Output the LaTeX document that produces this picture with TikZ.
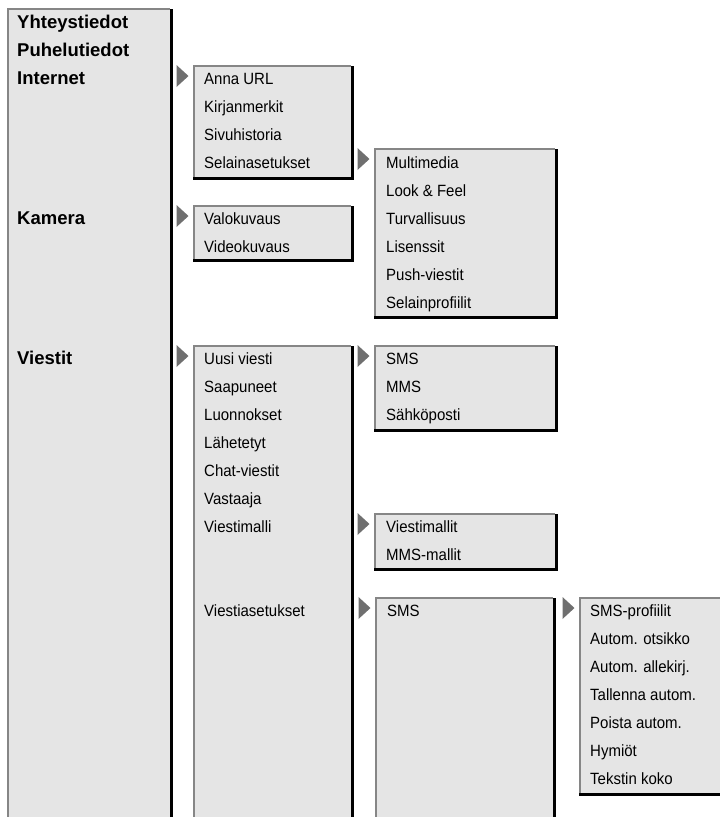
\documentclass[tikz,border=0pt]{standalone}
\usepackage{fontspec}
\setmainfont{Liberation Sans}
\newfontfamily\itemfont[FakeStretch=0.92]{Liberation Sans}
\definecolor{boxfill}{HTML}{E5E5E5}
\definecolor{edgegray}{HTML}{868686}
\definecolor{arrowgray}{HTML}{6F6F6F}
\tikzset{
  itm/.style={anchor=base west, inner sep=0pt, font=\itemfont\fontsize{16.3}{18}\selectfont},
  mainitm/.style={anchor=base west, inner sep=0pt, font=\bfseries\fontsize{18.5}{20}\selectfont},
  boxfillst/.style={fill=boxfill},
  lightedge/.style={draw=edgegray, line width=1.5pt},
  darkedge/.style={draw=black, line width=3pt},
  pointerst/.style={fill=arrowgray}
}
% closed box: left, top, right, bottom (y grows downward)
\newcommand\closedbox[4]{%
  \fill[boxfillst] (#1,#2) rectangle (#3,#4);
  \draw[darkedge] (#3+1.5,#2+1) -- (#3+1.5,#4+3);
  \draw[darkedge] (#1,#4+1.5) -- (#3+3,#4+1.5);
  \draw[lightedge] (#1+0.75,#4) -- (#1+0.75,#2+0.75) -- (#3,#2+0.75);
}
% open box (runs off the bottom): left, top, right
\newcommand\openbox[3]{%
  \fill[boxfillst] (#1,#2) rectangle (#3,817);
  \draw[darkedge] (#3+1.5,#2+1) -- (#3+1.5,817);
  \draw[lightedge] (#1+0.75,817) -- (#1+0.75,#2+0.75) -- (#3,#2+0.75);
}
% wide box running off the right edge: left, top, bottom
\newcommand\rightbox[3]{%
  \fill[boxfillst] (#1,#2) rectangle (720,#3);
  \draw[darkedge] (#1,#3+1.5) -- (720,#3+1.5);
  \draw[lightedge] (#1+0.75,#3) -- (#1+0.75,#2+0.75) -- (720,#2+0.75);
}
% pointer triangle before a box: box left, box top
\newcommand\menupointer[2]{%
  \fill[pointerst] (#1-16.5,#2) -- (#1-16.5,#2+22) -- (#1-4.5,#2+11) -- cycle;
}
\begin{document}
\begin{tikzpicture}[x=1pt,y=-1pt]
\useasboundingbox (0,0) rectangle (720,817);

% boxes
\openbox{7}{8}{170}
\closedbox{193}{65}{351}{177}
\closedbox{374}{148}{555}{316}
\closedbox{193}{205}{351}{259}
\openbox{193}{345}{351}
\closedbox{374}{345}{555}{429}
\closedbox{374}{513}{555}{568}
\openbox{375}{597}{553}
\rightbox{579}{597}{793}

% pointers
\menupointer{193}{65}
\menupointer{374}{148}
\menupointer{193}{205}
\menupointer{193}{345}
\menupointer{374}{345}
\menupointer{374}{513}
\menupointer{375}{597}
\menupointer{579}{597}

% main menu
\node[mainitm] (yht) at (17,28) {Yhteystiedot};
\node[mainitm] (puh) at (17,56) {Puhelutiedot};
\node[mainitm] (int) at (17,84) {Internet};
\node[mainitm] (kam) at (17,224) {Kamera};
\node[mainitm] (vie) at (17,364) {Viestit};

% Internet submenu
\node[itm] (url) at (204,84) {Anna URL};
\node[itm] (kir) at (204,112) {Kirjanmerkit};
\node[itm] (siv) at (204,140) {Sivuhistoria};
\node[itm] (sel) at (204,168) {Selainasetukset};

% Selainasetukset submenu
\node[itm] (mul) at (386,168) {Multimedia};
\node[itm] (loo) at (386,196) {Look \& Feel};
\node[itm] (tur) at (386,224) {Turvallisuus};
\node[itm] (lis) at (386,252) {Lisenssit};
\node[itm] (pus) at (386,280) {Push-viestit};
\node[itm] (spr) at (386,308) {Selainprofiilit};

% Kamera submenu
\node[itm] (val) at (204,224) {Valokuvaus};
\node[itm] (vid) at (204,252) {Videokuvaus};

% Viestit submenu
\node[itm] (uus) at (204,364) {Uusi viesti};
\node[itm] (saa) at (204,392) {Saapuneet};
\node[itm] (luo) at (204,420) {Luonnokset};
\node[itm] (lah) at (204,448) {Lähetetyt};
\node[itm] (cha) at (204,476) {Chat-viestit};
\node[itm] (vas) at (204,504) {Vastaaja};
\node[itm] (vml) at (204,532) {Viestimalli};
\node[itm] (vas2) at (204,616) {Viestiasetukset};

% Uusi viesti submenu
\node[itm] (sms1) at (386,364) {SMS};
\node[itm] (mms1) at (386,392) {MMS};
\node[itm] (sah) at (386,420) {Sähköposti};

% Viestimalli submenu
\node[itm] (vmt) at (386,532) {Viestimallit};
\node[itm] (mmm) at (386,560) {MMS-mallit};

% Viestiasetukset submenu
\node[itm] (sms2) at (387,616) {SMS};

% SMS submenu
\node[itm] (spf) at (590,616) {SMS-profiilit};
\node[itm] (aot) at (590,644) {Autom. otsikko};
\node[itm] (aal) at (590,672) {Autom. allekirj.};
\node[itm] (tal) at (590,700) {Tallenna autom.};
\node[itm] (poi) at (590,728) {Poista autom.};
\node[itm] (hym) at (590,756) {Hymiöt};
\node[itm] (tek) at (590,784) {Tekstin koko};
\end{tikzpicture}
\end{document}
